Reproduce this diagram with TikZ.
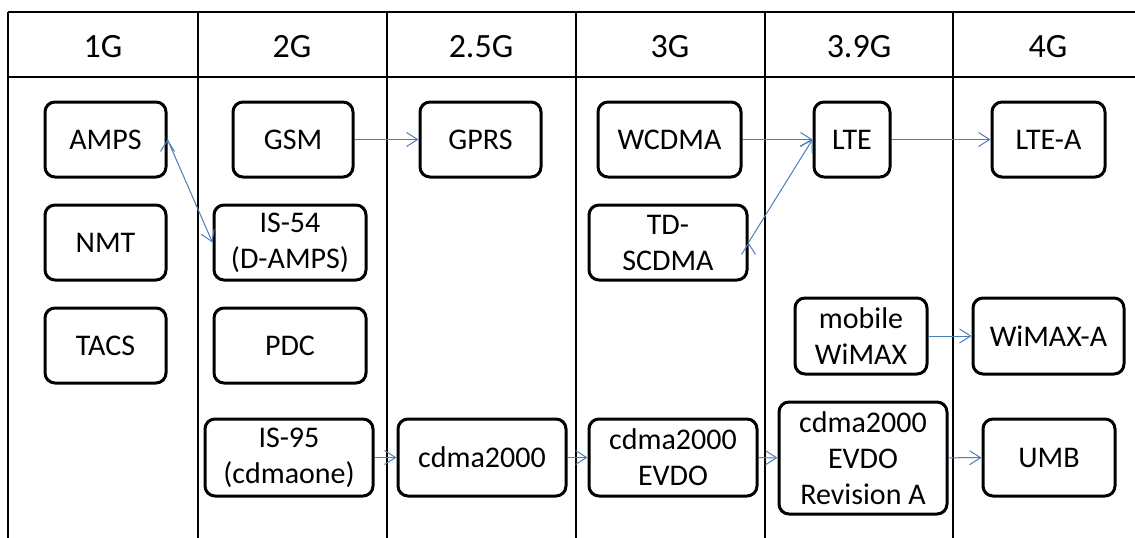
\documentclass[tikz,border=0pt]{standalone}
\usepackage{fontspec}
\setmainfont{Carlito}
\usepackage{tikz}
\usetikzlibrary{arrows.meta}
\definecolor{linkblue}{HTML}{4A7EBB}

\begin{document}
\begin{tikzpicture}[x=1pt,y=-1pt,
  techbox/.style={shape=rectangle,draw=black,line width=3pt,rounded corners=10pt,
    align=center,inner sep=0pt,minimum height=75pt,font=\fontsize{30}{36}\selectfont},
  genlabel/.style={font=\fontsize{34}{40}\selectfont},
  gridline/.style={draw=black,line width=1.5pt},
  flow/.style={draw=linkblue,line width=1pt,-{Straight Barb[length=11pt,width=14pt,line width=1pt]}}]
\useasboundingbox (0,0) rectangle (1135,538);
% table
\draw[gridline] (8,12) -- (1135,12);
\draw[gridline] (8,77) -- (1135,77);
\foreach \x in {8,198,387,576,765,953}
  \draw[gridline] (\x,12) -- (\x,538);
% headers
\node[genlabel] (g1) at (103,47) {1G};
\node[genlabel] (g2) at (292,47) {2G};
\node[genlabel] (g25) at (481,47) {2.5G};
\node[genlabel] (g3) at (670,47) {3G};
\node[genlabel] (g39) at (859,47) {3.9G};
\node[genlabel] (g4) at (1048,47) {4G};
% systems
\node[techbox,minimum width=121pt] (amps) at (105.5,139.5) {AMPS};
\node[techbox,minimum width=121pt] (nmt) at (105.5,242.5) {NMT};
\node[techbox,minimum width=121pt] (tacs) at (105.5,345.5) {TACS};
\node[techbox,minimum width=120pt] (gsm) at (293,139.5) {GSM};
\node[techbox,minimum width=152pt] (is54) at (290,242.5) {IS-54\\(D-AMPS)};
\node[techbox,minimum width=152pt] (pdc) at (290,345.5) {PDC};
\node[techbox,minimum width=168pt,minimum height=77pt] (is95) at (289,457.5) {IS-95\\(cdmaone)};
\node[techbox,minimum width=121pt] (gprs) at (480.5,139.5) {GPRS};
\node[techbox,minimum width=168pt,minimum height=77pt] (cdma) at (482,457.5) {cdma2000};
\node[techbox,minimum width=143pt] (wcdma) at (669.5,139.5) {WCDMA};
\node[techbox,minimum width=158pt] (tdscdma) at (668,242.5) {TD-\\SCDMA};
\node[techbox,minimum width=168pt,minimum height=77pt] (evdo) at (673,457.5) {cdma2000\\EVDO};
\node[techbox,minimum width=76pt] (lte) at (852,139.5) {LTE};
\node[techbox,minimum width=132pt,minimum height=76pt] (mwimax) at (861,336) {mobile\\WiMAX};
\node[techbox,minimum width=168pt,minimum height=112pt] (reva) at (863,458) {cdma2000\\EVDO\\Revision A};
\node[techbox,minimum width=113pt] (ltea) at (1048.5,139.5) {LTE-A};
\node[techbox,minimum width=151pt,minimum height=76pt] (wimaxa) at (1048.5,336) {WiMAX-A};
\node[techbox,minimum width=132pt,minimum height=77pt] (umb) at (1049,457.5) {UMB};
% evolution
\path [flow] (amps.east) edge (is54.west);
\path [flow] (gsm) edge (gprs);
\path [flow] (wcdma) edge (lte);
\path [flow] (tdscdma.east) edge (lte.west);
\path [flow] (lte) edge (ltea);
\path [flow] (mwimax) edge (wimaxa);
\path [flow] (is95) edge (cdma);
\path [flow] (cdma) edge (evdo);
\path [flow] (evdo) edge (reva);
\path [flow] (reva) edge (umb);
\end{tikzpicture}
\end{document}
